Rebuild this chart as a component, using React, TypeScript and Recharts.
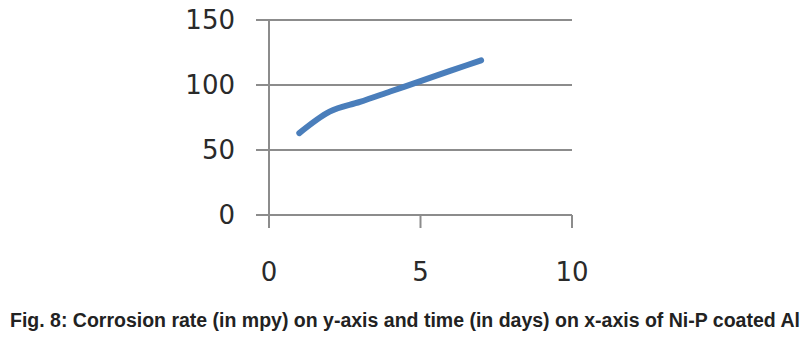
import { LineChart, Line, XAxis, YAxis, CartesianGrid } from "recharts";

const days = [1, 2, 3, 4, 5, 6, 7];
const corrosionRate = [63, 79.5, 87, 95, 103, 111, 119];
const xTicks = [0, 5, 10];
const yTicks = [0, 50, 100, 150];

const data = days.map((d, i) => ({ day: d, rate: corrosionRate[i] }));

const axisFont = { fontSize: 26, fill: "#2a2a2a", fontFamily: "DejaVu Sans" };

export default function App() {
  return (
    <div style={{ position: "absolute", left: 0, top: 0, width: 800, height: 341, background: "#fff" }}>
      <LineChart
        width={800}
        height={290}
        data={data}
        margin={{ top: 20, right: 228, left: 0, bottom: 0 }}
      >
        <CartesianGrid vertical={false} stroke="#8c8c8c" strokeWidth={2} />
        <XAxis
          type="number"
          dataKey="day"
          domain={[0, 10]}
          ticks={xTicks}
          height={75}
          tickSize={13}
          tickMargin={35}
          axisLine={false}
          tickLine={{ stroke: "#8c8c8c", strokeWidth: 2 }}
          tick={axisFont}
        />
        <YAxis
          type="number"
          domain={[0, 150]}
          ticks={yTicks}
          width={269}
          tickSize={13}
          tickMargin={21}
          axisLine={{ stroke: "#8c8c8c", strokeWidth: 2 }}
          tickLine={{ stroke: "#8c8c8c", strokeWidth: 2 }}
          tick={axisFont}
        />
        <Line
          type="monotone"
          dataKey="rate"
          stroke="#4a7ebb"
          strokeWidth={6}
          strokeLinecap="round"
          dot={false}
          isAnimationActive={false}
        />
      </LineChart>
      <div
        style={{
          position: "absolute",
          left: 10,
          top: 308,
          whiteSpace: "nowrap",
          fontFamily: "'Liberation Sans', Arial, sans-serif",
          fontWeight: "bold",
          fontSize: 19.5,
          lineHeight: "24px",
          color: "#222",
        }}
      >
        Fig. 8: Corrosion rate (in mpy) on y-axis and time (in days) on x-axis of Ni-P coated Al
      </div>
    </div>
  );
}
